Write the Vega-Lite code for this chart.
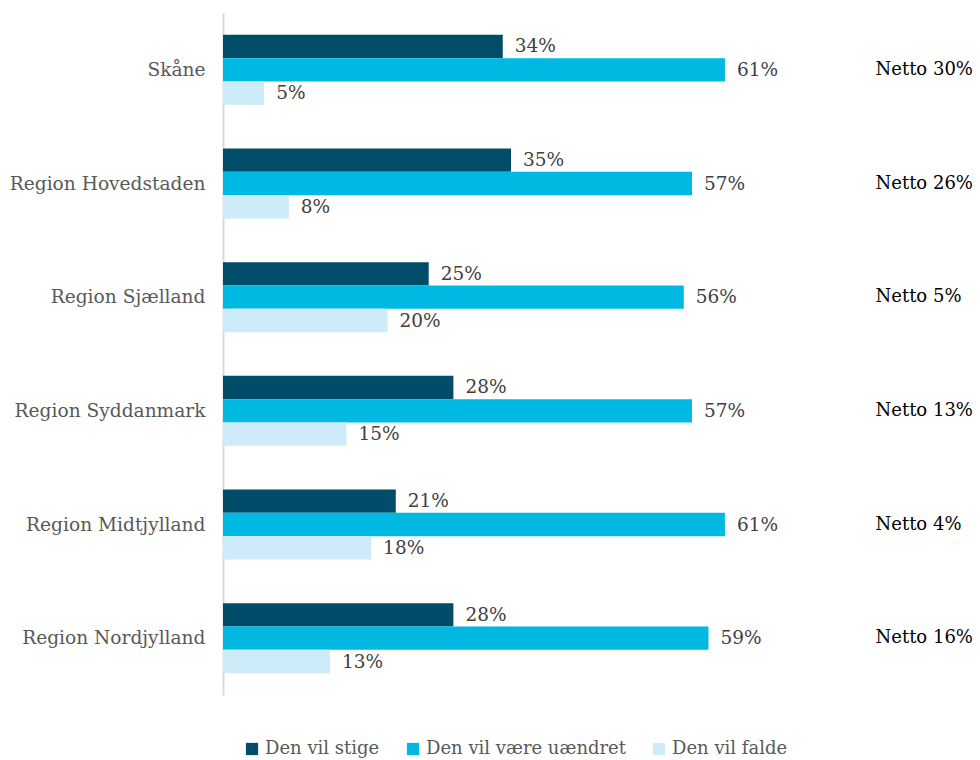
{
  "$schema": "https://vega.github.io/schema/vega-lite/v6.json",
  "autosize": {"type": "none"},
  "padding": {"left": 223, "top": 13, "right": 0, "bottom": 65},
  "width": 757,
  "height": 682,
  "background": "white",
  "config": {
    "view": {"stroke": null},
    "font": "DejaVu Serif"
  },
  "datasets": {
    "bars": [
      {"region": "Skåne", "series": "Den vil stige", "value": 34, "label": "34%"},
      {"region": "Skåne", "series": "Den vil være uændret", "value": 61, "label": "61%"},
      {"region": "Skåne", "series": "Den vil falde", "value": 5, "label": "5%"},
      {"region": "Region Hovedstaden", "series": "Den vil stige", "value": 35, "label": "35%"},
      {"region": "Region Hovedstaden", "series": "Den vil være uændret", "value": 57, "label": "57%"},
      {"region": "Region Hovedstaden", "series": "Den vil falde", "value": 8, "label": "8%"},
      {"region": "Region Sjælland", "series": "Den vil stige", "value": 25, "label": "25%"},
      {"region": "Region Sjælland", "series": "Den vil være uændret", "value": 56, "label": "56%"},
      {"region": "Region Sjælland", "series": "Den vil falde", "value": 20, "label": "20%"},
      {"region": "Region Syddanmark", "series": "Den vil stige", "value": 28, "label": "28%"},
      {"region": "Region Syddanmark", "series": "Den vil være uændret", "value": 57, "label": "57%"},
      {"region": "Region Syddanmark", "series": "Den vil falde", "value": 15, "label": "15%"},
      {"region": "Region Midtjylland", "series": "Den vil stige", "value": 21, "label": "21%"},
      {"region": "Region Midtjylland", "series": "Den vil være uændret", "value": 61, "label": "61%"},
      {"region": "Region Midtjylland", "series": "Den vil falde", "value": 18, "label": "18%"},
      {"region": "Region Nordjylland", "series": "Den vil stige", "value": 28, "label": "28%"},
      {"region": "Region Nordjylland", "series": "Den vil være uændret", "value": 59, "label": "59%"},
      {"region": "Region Nordjylland", "series": "Den vil falde", "value": 13, "label": "13%"}
    ],
    "netto": [
      {"region": "Skåne", "netto": "Netto 30%"},
      {"region": "Region Hovedstaden", "netto": "Netto 26%"},
      {"region": "Region Sjælland", "netto": "Netto 5%"},
      {"region": "Region Syddanmark", "netto": "Netto 13%"},
      {"region": "Region Midtjylland", "netto": "Netto 4%"},
      {"region": "Region Nordjylland", "netto": "Netto 16%"}
    ]
  },
  "layer": [
    {
      "data": {"name": "bars"},
      "mark": {"type": "bar"},
      "encoding": {
        "y": {
          "field": "region", "type": "nominal",
          "sort": ["Skåne", "Region Hovedstaden", "Region Sjælland", "Region Syddanmark", "Region Midtjylland", "Region Nordjylland"],
          "scale": {"paddingInner": 0.384, "paddingOuter": 0.192},
          "axis": {
            "title": null, "ticks": false, "domainColor": "#D9D9D9", "domainWidth": 2,
            "labelFontSize": 18.6, "labelColor": "#595959", "labelPadding": 18, "labelFont": "DejaVu Serif", "labelLimit": 300
          }
        },
        "yOffset": {
          "field": "series", "type": "nominal",
          "sort": ["Den vil stige", "Den vil være uændret", "Den vil falde"],
          "scale": {"paddingInner": 0, "paddingOuter": 0}
        },
        "x": {
          "field": "value", "type": "quantitative",
          "scale": {"domain": [0, 92], "nice": false},
          "axis": null
        },
        "color": {
          "field": "series", "type": "nominal",
          "scale": {
            "domain": ["Den vil stige", "Den vil være uændret", "Den vil falde"],
            "range": ["#014D69", "#00B9E3", "#CDEBF8"]
          },
          "legend": {
            "title": null, "orient": "none", "direction": "horizontal",
            "legendX": 20, "legendY": 727,
            "symbolType": "square", "symbolSize": 150, "symbolStrokeWidth": 0,
            "labelFontSize": 18, "labelColor": "#595959", "labelFont": "DejaVu Serif",
            "columnPadding": 24, "labelOffset": 4, "labelLimit": 400
          }
        }
      }
    },
    {
      "data": {"name": "bars"},
      "mark": {"type": "text", "align": "left", "baseline": "middle", "dx": 12, "fontSize": 18.5, "color": "#404040", "font": "DejaVu Serif"},
      "encoding": {
        "y": {"field": "region", "type": "nominal", "sort": ["Skåne", "Region Hovedstaden", "Region Sjælland", "Region Syddanmark", "Region Midtjylland", "Region Nordjylland"]},
        "yOffset": {"field": "series", "type": "nominal", "sort": ["Den vil stige", "Den vil være uændret", "Den vil falde"]},
        "x": {"field": "value", "type": "quantitative"},
        "text": {"field": "label", "type": "nominal"}
      }
    },
    {
      "data": {"name": "netto"},
      "mark": {"type": "text", "align": "left", "baseline": "middle", "fontSize": 18, "color": "#000000", "font": "DejaVu Serif"},
      "encoding": {
        "y": {"field": "region", "type": "nominal", "sort": ["Skåne", "Region Hovedstaden", "Region Sjælland", "Region Syddanmark", "Region Midtjylland", "Region Nordjylland"]},
        "x": {"datum": 79.3, "type": "quantitative"},
        "text": {"field": "netto", "type": "nominal"}
      }
    }
  ]
}
